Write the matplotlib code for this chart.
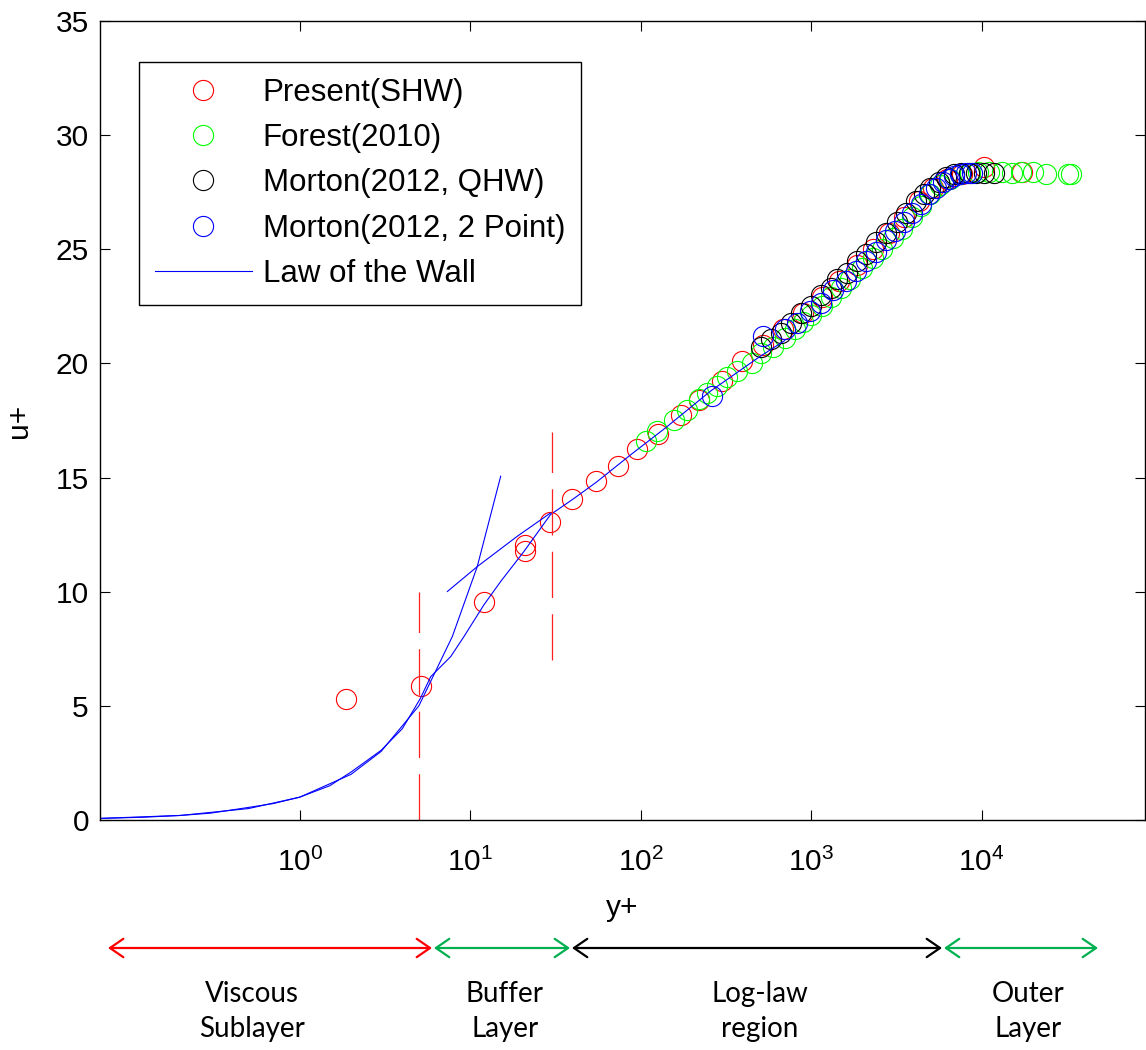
import matplotlib
matplotlib.use("Agg")
import matplotlib.pyplot as plt
from matplotlib.patches import FancyArrowPatch
from matplotlib.ticker import FixedLocator, LogFormatterMathtext, NullLocator

plt.rcParams['font.family'] = ['Liberation Sans', 'DejaVu Sans']
plt.rcParams['mathtext.fontset'] = 'custom'
plt.rcParams['mathtext.rm'] = 'Liberation Sans'
plt.rcParams['mathtext.it'] = 'Liberation Sans'
plt.rcParams['mathtext.default'] = 'regular'

# ---------------- data ----------------
present_yp = [1.86, 5.13, 12.05, 20.96, 20.96, 29.4, 39.4, 54.5, 73.6, 95.6, 127, 172,
              220, 301, 395, 520, 680, 900, 1150, 1450, 1850, 2300, 2850, 3500, 4300,
              5200, 6300, 7700, 10300, 17300]
present_up = [5.29, 5.85, 9.55, 11.77, 12.06, 13.06, 14.04, 14.87, 15.5, 16.26, 16.89, 17.76,
              18.39, 19.22, 20.1, 20.8, 21.5, 22.2, 22.9, 23.6, 24.3, 25.0, 25.7, 26.4, 27.1,
              27.7, 28.1, 28.3, 28.6, 28.4]

forest_yp = [108, 124, 157, 188, 220, 246, 282, 323, 366, 452, 506, 600, 700, 800, 900,
             1000, 1150, 1300, 1500, 1700, 2000, 2300, 2600, 3000, 3400, 3900, 4400, 5000,
             5700, 6500, 7500, 8500, 9500, 11000, 13200, 15000, 17000, 20000, 24000,
             32000, 33500]
forest_up = [16.6, 17.03, 17.54, 17.95, 18.45, 18.71, 19.0, 19.4, 19.66, 20.03, 20.44, 20.7,
             21.1, 21.5, 21.8, 22.1, 22.5, 22.9, 23.3, 23.7, 24.2, 24.6, 25.0, 25.5, 25.9,
             26.4, 26.9, 27.4, 27.8, 28.1, 28.3, 28.35, 28.4, 28.4, 28.4, 28.35, 28.4, 28.4,
             28.3, 28.3, 28.3]

morton_qhw_yp = [506, 578, 662, 759, 867, 993, 1137, 1300, 1423, 1629, 1864, 2100, 2400,
                 2750, 3200, 3600, 4100, 4600, 5000, 5600, 6200, 6900, 7600, 8400, 9300,
                 10300, 11800]
morton_qhw_up = [20.73, 21.05, 21.35, 21.78, 22.2, 22.5, 23.0, 23.3, 23.7, 23.98, 24.5, 24.8,
                 25.3, 25.7, 26.2, 26.6, 27.1, 27.4, 27.7, 27.95, 28.15, 28.3, 28.35, 28.35,
                 28.35, 28.35, 28.35]

morton_2pt_yp = [263, 520, 700, 830, 980, 1137, 1350, 1594, 1824, 2100, 2400, 2750, 3100,
                 3500, 3900, 4400, 4900, 5400, 5900, 6400, 6900, 7500, 8100, 8800]
morton_2pt_up = [18.57, 21.2, 21.5, 21.78, 22.3, 22.66, 23.2, 23.6, 24.05, 24.5, 24.9, 25.4,
                 25.8, 26.2, 26.6, 27.0, 27.4, 27.7, 27.95, 28.1, 28.2, 28.3, 28.35, 28.35]

# composite law-of-the-wall profile
wall_yp = [0.0674, 0.12, 0.2, 0.3, 0.5, 0.7, 1.0, 1.5, 2.0, 3.0, 4.0, 5.08, 5.87, 7.69, 9.2,
           12.05, 15.1, 20.7, 29.6, 40, 55, 87.4, 140, 257, 500, 700]
wall_up = [0.07, 0.12, 0.2, 0.3, 0.55, 0.72, 1.0, 1.5, 2.1, 3.05, 4.0, 5.3, 6.28, 7.16, 8.04,
           9.43, 10.45, 11.77, 13.38, 14.05, 14.8, 16.0, 17.18, 18.79, 20.3, 21.0]

# viscous sublayer relation u+ = y+
visc_yp = [0.0674, 0.2, 0.5, 1.0, 2.0, 3.0, 5.0, 7.86, 11.0, 15.1]
visc_up = [0.07, 0.2, 0.5, 1.0, 2.0, 3.0, 5.0, 8.04, 11.1, 15.06]

# log-law segment extended into the buffer layer
loglaw_yp = [7.35, 11.0, 18.9, 29.6]
loglaw_up = [10.01, 11.1, 12.43, 13.45]

# buffer-layer bounds (dashed markers)
bound_yp = [5, 30]
bound_lo = [0, 7]
bound_hi = [10, 17]

legend_labels = ["Present(SHW)", "Forest(2010)", "Morton(2012, QHW)",
                 "Morton(2012, 2 Point)", "Law of the Wall"]
region_labels = ["Viscous\nSublayer", "Buffer\nLayer", "Log-law\nregion", "Outer\nLayer"]
region_colors = ["#ff0000", "#00b050", "#000000", "#00b050"]

# ---------------- figure ----------------
W, H = 1146, 1050
fig = plt.figure(figsize=(W / 100, H / 100), dpi=100)
ax = fig.add_axes([100 / W, 230 / H, 1045 / W, 799 / H])
ax.set_xscale('log')

mk = dict(ls='none', marker='o', ms=14.5, mew=0.8, mfc='none')
h1, = ax.plot(present_yp, present_up, mec='#ff0000', **mk)
h2, = ax.plot(forest_yp, forest_up, mec='#00ff00', **mk)
h3, = ax.plot(morton_qhw_yp, morton_qhw_up, mec='#000000', **mk)
h4, = ax.plot(morton_2pt_yp, morton_2pt_up, mec='#0000ff', **mk)

lw_line = 0.8
h5, = ax.plot(wall_yp, wall_up, color='#0000ff', lw=lw_line)
ax.plot(visc_yp, visc_up, color='#0000ff', lw=lw_line)
ax.plot(loglaw_yp, loglaw_up, color='#0000ff', lw=lw_line)

for x, lo, hi in zip(bound_yp, bound_lo, bound_hi):
    ax.plot([x, x], [lo, hi], color='#ff2020', lw=0.9,
            linestyle=(0, (37, 13)))

ax.set_xlim(0.0674, 90800)
ax.set_ylim(0, 35)
ax.xaxis.set_major_locator(FixedLocator([1, 10, 100, 1000, 10000]))
ax.xaxis.set_minor_locator(NullLocator())
ax.xaxis.set_major_formatter(LogFormatterMathtext())
ax.set_yticks(range(0, 36, 5))

ax.tick_params(axis='both', which='both', direction='in', length=7, width=0.8,
               top=True, right=True, labelsize=21.5)
ax.tick_params(axis='x', pad=20)
ax.tick_params(axis='y', pad=8)
for s in ax.spines.values():
    s.set_linewidth(1.0)

ax.set_xlabel('y+', fontsize=21.5, labelpad=12)
ax.set_ylabel('u+', fontsize=21.5, labelpad=16)

leg = ax.legend([h1, h2, h3, h4, h5], legend_labels, loc='upper left',
                bbox_to_anchor=(39 / 1045, (820 - 62) / 799), borderaxespad=0,
                frameon=True, fancybox=False, edgecolor='black', framealpha=1,
                fontsize=22.5, borderpad=0.5, labelspacing=0.49, handlelength=3.1,
                handletextpad=0.36, numpoints=1)
leg.get_frame().set_linewidth(1.0)

# ---------------- region arrows below the axes ----------------
arrow_spans = [(108, 432), (434, 570), (572, 942), (944, 1098)]
label_x = [252, 505, 760, 1028]
arrow_y = 948
for (x0, x1), c in zip(arrow_spans, region_colors):
    arr = FancyArrowPatch((x0 / W, 1 - arrow_y / H), (x1 / W, 1 - arrow_y / H),
                          transform=fig.transFigure,
                          arrowstyle='<->,head_length=0.8,head_width=0.55',
                          mutation_scale=12, color=c, lw=1.6, shrinkA=0, shrinkB=0)
    fig.add_artist(arr)

for lx, txt in zip(label_x, region_labels):
    fig.text(lx / W, 1 - 1011.5 / H, txt, ha='center', va='center', fontsize=20,
             family=['Lato', 'DejaVu Sans'], linespacing=1.4)

fig.savefig('out.png', dpi=100)
